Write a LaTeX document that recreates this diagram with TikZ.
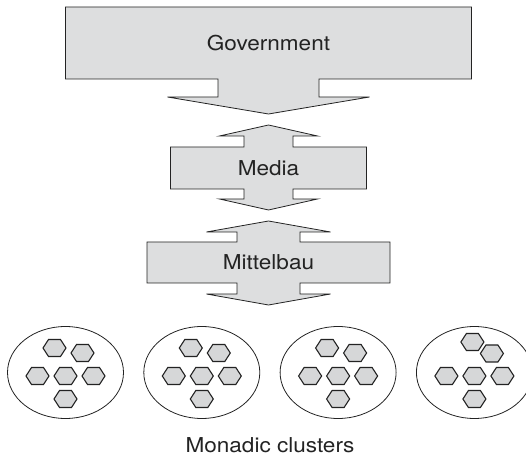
\documentclass[tikz,border=0pt]{standalone}
\usepackage{fontspec}
\setmainfont{TeX Gyre Heros}[FakeStretch=1.1]
\usepackage{tikz}
\usetikzlibrary{shapes.geometric,positioning,calc}
\pgfdeclarelayer{background}
\pgfsetlayers{background,main}
\definecolor{boxgray}{RGB}{221,222,223}
\definecolor{hexgray}{RGB}{214,215,216}
\definecolor{inkgray}{RGB}{35,35,35}
\tikzstyle{block} = [inner sep=0pt, outer sep=0pt, text centered, text=inkgray, font=\fontsize{20.5}{24}\selectfont]
\tikzstyle{outline} = [draw=inkgray, fill=boxgray, line width=0.8pt]
\tikzstyle{cluster} = [ellipse, draw=inkgray, line width=0.8pt, minimum width=116pt, minimum height=92pt, inner sep=0pt, outer sep=0pt]
\tikzstyle{hex} = [draw=inkgray, fill=hexgray, line width=1.1pt, line join=miter]
\newcommand{\block}[4]{node (#1) [block, minimum width=#2pt, minimum height=#3pt] {#4}}
\newcommand{\uptip}[5]{-- ([xshift=-#2]#1.north) -- ([xshift=-#2,yshift=#3]#1.north) -- ([xshift=-#4,yshift=#3]#1.north) -- ([yshift=#3+#5]#1.north) -- ([xshift=#4,yshift=#3]#1.north) -- ([xshift=#2,yshift=#3]#1.north) -- ([xshift=#2]#1.north)}
\newcommand{\downtip}[5]{-- ([xshift=#2]#1.south) -- ([xshift=#2,yshift=-#3]#1.south) -- ([xshift=#4,yshift=-#3]#1.south) -- ([yshift=-#3-#5]#1.south) -- ([xshift=-#4,yshift=-#3]#1.south) -- ([xshift=-#2,yshift=-#3]#1.south) -- ([xshift=-#2]#1.south)}
\begin{document}
\begin{tikzpicture}[x=1pt,y=1pt]
\useasboundingbox (0,0) rectangle (526,457);
\clip (0,0) rectangle (526,457);
\path (268.5,414) \block{gov}{406}{72}{Government};
\path (gov)+(0,-125) \block{med}{196}{42}{Media};
\path (med)+(0,-94.5) \block{mit}{243}{41}{Mittelbau};

\begin{pgfonlayer}{background}
\path [outline] (gov.north west) -- (gov.north east) -- (gov.south east) \downtip{gov}{50.5}{18}{101}{17} -- (gov.south west) -- cycle;
\path [outline] (med.north west) \uptip{med}{24.5}{11}{49}{11} -- (med.north east) -- (med.south east) \downtip{med}{24.5}{10}{49}{11} -- (med.south west) -- cycle;
\path [outline] (mit.north west) \uptip{mit}{31.5}{10}{62}{11} -- (mit.north east) -- (mit.south east) \downtip{mit}{31.5}{11}{62}{11} -- (mit.south west) -- cycle;
\end{pgfonlayer}

% monadic clusters
\path (65.5,84.5) node (c1) [cluster] {};
\path (c1)+(136.3,0) node (c2) [cluster] {};
\path (c2)+(136.3,0) node (c3) [cluster] {};
\path (c3)+(136.3,0) node (c4) [cluster] {};
\foreach \c in {c1,c2,c3}
  \foreach \dx/\dy in {-11/24.5, 17/19.5, -28/-3.5, 0/-3.5, 28/-3.5, 0/-26.5}
    \path [hex] ([xshift=\dx,yshift=\dy]\c.center) ++(-11.5,0) -- ++(5.5,8.5) -- ++(12,0) -- ++(5.5,-8.5) -- ++(-5.5,-8.5) -- ++(-12,0) -- cycle;
\foreach \dx/\dy in {-2/30.5, 17.5/19, -28/-3.5, 0/-3.5, 28/-3.5, 0/-26.5}
  \path [hex] ([xshift=\dx,yshift=\dy]c4.center) ++(-11.5,0) -- ++(5.5,8.5) -- ++(12,0) -- ++(5.5,-8.5) -- ++(-5.5,-8.5) -- ++(-12,0) -- cycle;

\path (270,5) node (lab) [block, anchor=base] {Monadic clusters};
\end{tikzpicture}
\end{document}
